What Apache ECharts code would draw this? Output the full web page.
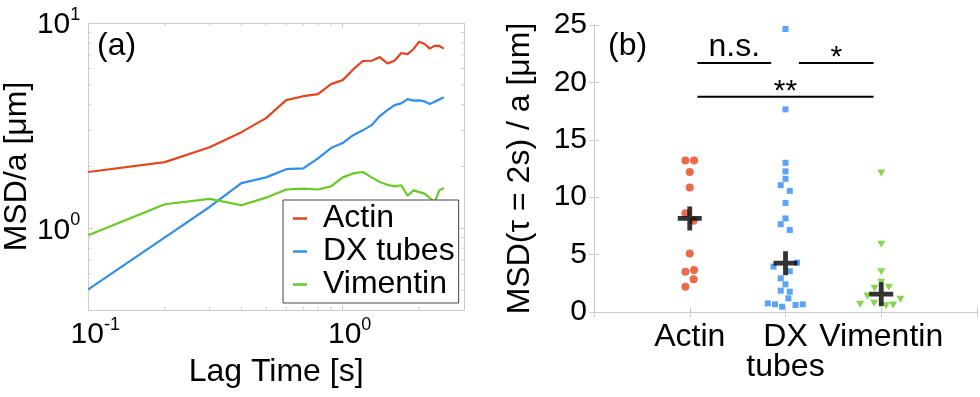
<!DOCTYPE html>
<html>
<head>
<meta charset="utf-8">
<script src="https://cdn.jsdelivr.net/npm/echarts@6/dist/echarts.min.js"></script>
<style>
html, body { margin: 0; padding: 0; background: #fff; }
#chart { width: 980px; height: 397px; }
</style>
</head>
<body>
<div id="chart"></div>
<script>
"use strict";

// panel (a): MSD/a vs lag time
var lagTime = [0.1, 0.2, 0.3, 0.4, 0.5, 0.6, 0.7, 0.8, 0.9, 1.0, 1.1, 1.2, 1.3, 1.4, 1.5, 1.6, 1.7, 1.8, 1.9, 2.0, 2.1, 2.2, 2.3, 2.4, 2.5];
var actinMsd = [1.88, 2.10, 2.48, 2.94, 3.44, 4.21, 4.40, 4.50, 5.04, 5.27, 5.94, 6.53, 6.55, 6.82, 6.36, 6.55, 7.14, 7.06, 7.47, 8.11, 7.90, 7.50, 7.75, 7.73, 7.50];
var dxMsd = [0.504, 0.904, 1.27, 1.66, 1.77, 1.94, 1.96, 2.19, 2.46, 2.60, 2.84, 3.00, 3.18, 3.52, 3.76, 3.98, 4.06, 4.26, 4.19, 4.20, 4.15, 4.03, 4.13, 4.24, 4.35];
var vimMsd = [0.924, 1.31, 1.39, 1.295, 1.41, 1.545, 1.56, 1.545, 1.60, 1.77, 1.85, 1.88, 1.77, 1.68, 1.63, 1.60, 1.62, 1.44, 1.53, 1.50, 1.476, 1.405, 1.34, 1.53, 1.57];
var minorX = [0.2, 0.3, 0.4, 0.5, 0.6, 0.7, 0.8, 0.9, 2];
var minorY = [0.5, 0.6, 0.7, 0.8, 0.9, 2, 3, 4, 5, 6, 7, 8, 9];

// panel (b): MSD(tau = 2s)/a per filament type, x = category position + jitter
var catNames = ['', 'Actin', 'DX\ntubes', 'Vimentin', ''];
var actinPts = [[0.955, 13.2], [1.045, 13.2], [1.0, 12.2], [1.0, 10.85], [0.955, 8.6], [1.04, 7.95], [1.0, 5.1], [0.955, 3.5], [1.045, 3.65], [1.04, 2.85], [0.955, 2.2]];
var dxPts = [[2.0, 24.65], [2.0, 17.65], [2.0, 13.0], [2.0, 12.25], [2.0, 11.6], [1.95, 11.05], [2.045, 10.55], [2.0, 9.5], [2.0, 8.15], [1.95, 7.65], [2.045, 7.15], [2.12, 4.3], [1.875, 3.95], [2.045, 3.55], [1.95, 2.93], [2.0, 2.41], [1.95, 1.86], [2.045, 1.77], [2.03, 1.19], [1.815, 0.75], [1.89, 0.67], [1.965, 0.46], [2.105, 0.61], [2.18, 0.67]];
var vimPts = [[3.0, 12.1], [3.0, 5.9], [3.0, 3.5], [3.0, 2.6], [2.93, 2.06], [3.08, 2.15], [2.855, 1.39], [3.2, 1.1], [2.925, 0.76], [2.78, 0.67], [3.05, 0.55], [3.125, 0.61]];
var meanPts = [[1, 8.15], [2, 4.25], [3, 1.55]];
var bracketFrom = [1.08, 2.14, 1.08];
var bracketTo = [1.85, 2.92, 2.92];
var bracketY = [21.7, 21.7, 18.75];
var bracketText = ['n.s.', '*', '**'];

var RED = '#e8441c', BLUE = '#2f8ff0', GREEN = '#66cc22';
var FONT = '"Liberation Sans", Arial, sans-serif';
var BOX = '#c9ccd0';

function zip(xs, ys) {
    var out = [];
    for (var i = 0; i < xs.length; i++) out.push([xs[i], ys[i]]);
    return out;
}

function powLabel(v) {
    var e = Math.round(Math.log(v) / Math.LN10);
    if (Math.abs(v - Math.pow(10, e)) > 1e-6 * v) return '';
    return '{b|10}{e|' + e + '}';
}
var powRich = {
    b: { fontSize: 30, color: '#000', fontFamily: FONT, verticalAlign: 'bottom', lineHeight: 34 },
    e: { fontSize: 18, color: '#000', fontFamily: FONT, verticalAlign: 'top', lineHeight: 18 }
};

function frameAxis(extra) {
    var a = {
        axisLine: { show: true, lineStyle: { color: BOX, width: 1 } },
        axisTick: { show: true, inside: true, length: 5, lineStyle: { color: BOX } },
        axisLabel: { show: false },
        splitLine: { show: false }
    };
    for (var k in extra) a[k] = extra[k];
    return a;
}

var dom = document.getElementById('chart');
var myChart = echarts.init(dom);

var option = {
    animation: false,
    textStyle: { fontFamily: FONT, color: '#000' },
    grid: [
        { left: 82, right: 516, top: 23, bottom: 87 },
        { left: 594, right: 3, top: 25, bottom: 85 }
    ],
    legend: {
        data: ['Actin', 'DX tubes', 'Vimentin'],
        orient: 'vertical',
        left: 283,
        top: 200,
        itemGap: 0,
        itemWidth: 14,
        itemHeight: 2.5,
        icon: 'rect',
        padding: [2, 4, 2, 10],
        borderColor: '#444',
        borderWidth: 1,
        backgroundColor: '#fff',
        textStyle: { fontSize: 32, color: '#000', fontFamily: FONT, lineHeight: 33, padding: [0, 0, 0, 11] }
    },
    xAxis: [
        frameAxis({
            gridIndex: 0, type: 'log', logBase: 10, min: 0.1, max: 3, position: 'bottom',
            name: 'Lag Time [s]', nameLocation: 'middle', nameGap: 46,
            nameTextStyle: { fontSize: 32, color: '#000', fontFamily: FONT },
            axisLabel: { show: true, margin: 6, formatter: powLabel, rich: powRich, padding: [0, 0, 0, 14] }
        }),
        frameAxis({ gridIndex: 0, type: 'log', logBase: 10, min: 0.1, max: 3, position: 'top' }),
        frameAxis({
            gridIndex: 1, type: 'value', min: 0, max: 4, interval: 1, position: 'bottom',
            axisLabel: {
                show: true, margin: 10, fontSize: 32, lineHeight: 30, color: '#000', fontFamily: FONT,
                formatter: function (v) { return catNames[Math.round(v)] || ''; }
            }
        }),
        frameAxis({ gridIndex: 1, type: 'value', min: 0, max: 4, interval: 1, position: 'top' })
    ],
    yAxis: [
        frameAxis({
            gridIndex: 0, type: 'log', logBase: 10, min: 0.4, max: 10, position: 'left',
            name: 'MSD/a [μm]', nameLocation: 'middle', nameGap: 50,
            nameTextStyle: { fontSize: 32, color: '#000', fontFamily: FONT },
            axisLabel: { show: true, margin: 8, formatter: powLabel, rich: powRich }
        }),
        frameAxis({ gridIndex: 0, type: 'log', logBase: 10, min: 0.4, max: 10, position: 'right' }),
        frameAxis({
            gridIndex: 1, type: 'value', min: 0, max: 25, interval: 5, position: 'left',
            name: 'MSD(τ = 2s) / a [μm]', nameLocation: 'middle', nameGap: 58,
            nameTextStyle: { fontSize: 32, color: '#000', fontFamily: FONT },
            axisLabel: { show: true, margin: 7, fontSize: 30, color: '#000', fontFamily: FONT }
        }),
        frameAxis({ gridIndex: 1, type: 'value', min: 0, max: 25, interval: 5, position: 'right' })
    ],
    graphic: [
        { type: 'text', left: 97, top: 30, style: { text: '(a)', fontSize: 32, fill: '#000', fontFamily: FONT } },
        { type: 'text', left: 608, top: 30, style: { text: '(b)', fontSize: 32, fill: '#000', fontFamily: FONT } }
    ],
    series: [
        {
            name: 'Actin', type: 'line', xAxisIndex: 0, yAxisIndex: 0, showSymbol: false,
            color: RED, lineStyle: { width: 2.2 }, data: zip(lagTime, actinMsd)
        },
        {
            name: 'DX tubes', type: 'line', xAxisIndex: 0, yAxisIndex: 0, showSymbol: false,
            color: BLUE, lineStyle: { width: 2.2 }, data: zip(lagTime, dxMsd)
        },
        {
            name: 'Vimentin', type: 'line', xAxisIndex: 0, yAxisIndex: 0, showSymbol: false,
            color: GREEN, lineStyle: { width: 2.2 }, data: zip(lagTime, vimMsd)
        },
        {
            // minor log ticks along x (bottom + top)
            type: 'custom', xAxisIndex: 0, yAxisIndex: 0, silent: true,
            data: minorX.map(function (v) { return [v, 1]; }),
            renderItem: function (params, api) {
                var p = api.coord([api.value(0), api.value(1)]);
                var cs = params.coordSys;
                var st = { stroke: BOX, lineWidth: 1 };
                return { type: 'group', children: [
                    { type: 'line', shape: { x1: p[0], y1: cs.y + cs.height, x2: p[0], y2: cs.y + cs.height - 3 }, style: st },
                    { type: 'line', shape: { x1: p[0], y1: cs.y, x2: p[0], y2: cs.y + 3 }, style: st }
                ] };
            }
        },
        {
            // minor log ticks along y (left + right)
            type: 'custom', xAxisIndex: 0, yAxisIndex: 0, silent: true,
            data: minorY.map(function (v) { return [1, v]; }),
            renderItem: function (params, api) {
                var p = api.coord([api.value(0), api.value(1)]);
                var cs = params.coordSys;
                var st = { stroke: BOX, lineWidth: 1 };
                return { type: 'group', children: [
                    { type: 'line', shape: { x1: cs.x, y1: p[1], x2: cs.x + 3, y2: p[1] }, style: st },
                    { type: 'line', shape: { x1: cs.x + cs.width, y1: p[1], x2: cs.x + cs.width - 3, y2: p[1] }, style: st }
                ] };
            }
        },
        {
            name: 'actin-pts', type: 'scatter', xAxisIndex: 2, yAxisIndex: 2,
            symbol: 'circle', symbolSize: 8, itemStyle: { color: RED }, data: actinPts
        },
        {
            name: 'dx-pts', type: 'scatter', xAxisIndex: 2, yAxisIndex: 2,
            symbol: 'rect', symbolSize: 6, itemStyle: { color: BLUE }, data: dxPts
        },
        {
            name: 'vim-pts', type: 'scatter', xAxisIndex: 2, yAxisIndex: 2,
            symbol: 'triangle', symbolRotate: 180, symbolSize: [8, 7], itemStyle: { color: GREEN }, data: vimPts
        },
        {
            name: 'means', type: 'scatter', xAxisIndex: 2, yAxisIndex: 2, z: 5,
            symbol: 'path://M10,0H15V10H25V15H15V25H10V15H0V10H10Z', symbolSize: 24,
            itemStyle: { color: '#000' }, data: meanPts
        },
        {
            name: 'significance', type: 'custom', xAxisIndex: 2, yAxisIndex: 2, silent: true, z: 5,
            data: bracketY.map(function (y, i) { return [bracketFrom[i], bracketTo[i], y]; }),
            encode: { x: [0, 1], y: 2 },
            renderItem: function (params, api) {
                var p1 = api.coord([api.value(0), api.value(2)]);
                var p2 = api.coord([api.value(1), api.value(2)]);
                var label = bracketText[params.dataIndex];
                var star = label.indexOf('*') >= 0;
                return { type: 'group', children: [
                    { type: 'line', shape: { x1: p1[0], y1: p1[1], x2: p2[0], y2: p2[1] }, style: { stroke: '#000', lineWidth: 2 } },
                    { type: 'text', x: (p1[0] + p2[0]) / 2, y: p1[1] + (star ? 10 : 0),
                      style: { text: label, fontSize: star ? 30 : 32, fontFamily: FONT, fill: '#000', align: 'center', verticalAlign: 'bottom' } }
                ] };
            }
        }
    ]
};

if (option && typeof option === "object") {
    myChart.setOption(option, true);
}
</script>
</body>
</html>
